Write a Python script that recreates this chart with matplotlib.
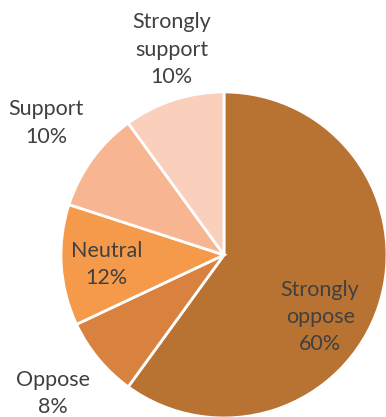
import matplotlib.pyplot as plt

# answers, clockwise from the top
labels = ['Strongly\noppose', 'Oppose', 'Neutral', 'Support', 'Strongly\nsupport']
shares = [60, 8, 12, 10, 10]
colors = ['#B87333', '#D9823F', '#F59A4B', '#F7B592', '#FACFBC']

# where each label sits (data units, pie radius = 1)
label_pos = [(0.59, -0.38), (-1.05, -0.85), (-0.72, -0.06), (-1.09, 0.81), (-0.32, 1.26)]

plt.rcParams['font.family'] = ['Lato', 'DejaVu Sans']

fig = plt.figure(figsize=(3.86, 4.17), dpi=100)
ax = fig.add_axes([0, 0, 1, 1])

ax.pie(shares, colors=colors, startangle=90, counterclock=False,
       wedgeprops=dict(edgecolor='white', linewidth=2))

for lab, val, (x, y) in zip(labels, shares, label_pos):
    ax.text(x, y, f'{lab}\n{val}%', ha='center', va='center',
            fontsize=15.5, color='#404040', linespacing=1.45)

ax.set_xlim(-1.374, 0.994)
ax.set_ylim(-0.994, 1.564)
ax.set_aspect('equal')
ax.axis('off')

fig.savefig('out.png', dpi=100)
